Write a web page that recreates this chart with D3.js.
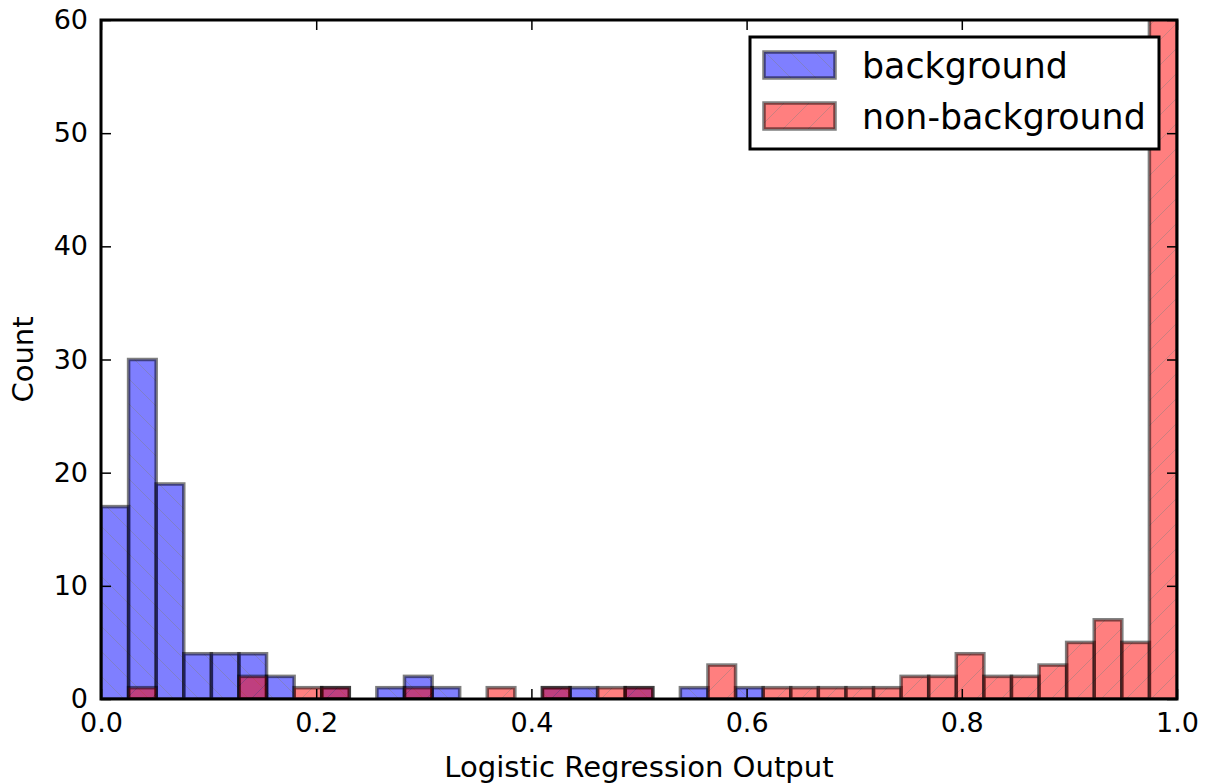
<!DOCTYPE html>
<html>
<head>
<meta charset="utf-8">
<script src="https://cdn.jsdelivr.net/npm/d3@7"></script>
<style>
  html, body { margin: 0; padding: 0; background: #fff; }
  svg { display: block; font-family: "DejaVu Sans", sans-serif; }
</style>
</head>
<body>
<svg id="chart" width="1209" height="784"></svg>
<script>
// Histogram of classifier output: 39 equal-width bins over [0, 1]
const binCount = 39;
const seriesNames = ["background", "non-background"];
const backgroundCounts = [
  17, 30, 19, 4, 4, 4, 2, 0, 1, 0,
  1, 2, 1, 0, 0, 0, 1, 1, 0, 1,
  0, 1, 0, 1, 0, 0, 0, 0, 0, 0,
  0, 0, 0, 0, 0, 0, 0, 0, 0
];
const nonBackgroundCounts = [
  0, 1, 0, 0, 0, 2, 0, 1, 1, 0,
  0, 1, 0, 0, 1, 0, 1, 0, 1, 1,
  0, 0, 3, 0, 1, 1, 1, 1, 1, 2,
  2, 4, 2, 2, 3, 5, 7, 5, 68
];
const xTicks = [0.0, 0.2, 0.4, 0.6, 0.8, 1.0];
const yTicks = [0, 10, 20, 30, 40, 50, 60];
const xLabel = "Logistic Regression Output";
const yLabel = "Count";

const svg = d3.select("#chart");
const margin = { left: 101, right: 32, top: 20, bottom: 85 };
const W = 1209, H = 784;
const x = d3.scaleLinear().domain([0, 1]).range([margin.left, W - margin.right]);
const y = d3.scaleLinear().domain([0, 60]).range([H - margin.bottom, margin.top]);

const defs = svg.append("defs");
defs.append("clipPath").attr("id", "plotClip")
  .append("rect")
  .attr("x", x(0)).attr("y", y(60))
  .attr("width", x(1) - x(0)).attr("height", y(0) - y(60));

// Hatched fills: "\" for background, "/" for non-background
function hatch(id, color, forward) {
  const s = 25;
  const p = defs.append("pattern").attr("id", id)
    .attr("patternUnits", "userSpaceOnUse")
    .attr("width", s).attr("height", s);
  p.append("rect").attr("width", s).attr("height", s).attr("fill", color);
  const lines = forward
    ? [[0, s, s, 0], [-s, s, 0, 0], [s, s, 2 * s, 0]]
    : [[0, 0, s, s], [-s, 0, 0, s], [s, 0, 2 * s, s]];
  lines.forEach(([x1, y1, x2, y2]) => {
    p.append("line").attr("x1", x1).attr("y1", y1).attr("x2", x2).attr("y2", y2)
      .attr("stroke", "rgba(0,0,0,0.45)").attr("stroke-width", 0.9);
  });
}
hatch("hatchBlue", "#0000ff", false);
hatch("hatchRed", "#ff0000", true);

const edges = d3.range(binCount + 1).map(i => i / binCount);
const series = [
  { name: seriesNames[0], counts: backgroundCounts, fill: "url(#hatchBlue)" },
  { name: seriesNames[1], counts: nonBackgroundCounts, fill: "url(#hatchRed)" }
];

const plot = svg.append("g").attr("clip-path", "url(#plotClip)");
series.forEach(s => {
  plot.append("g").selectAll("rect")
    .data(s.counts.map((c, i) => ({ c, x0: edges[i], x1: edges[i + 1] })).filter(d => d.c > 0))
    .join("rect")
    .attr("x", d => x(d.x0))
    .attr("y", d => y(d.c))
    .attr("width", d => x(d.x1) - x(d.x0))
    .attr("height", d => y(0) - y(d.c))
    .attr("fill", s.fill)
    .attr("fill-opacity", 0.5)
    .attr("stroke", "#000")
    .attr("stroke-opacity", 0.5)
    .attr("stroke-width", 3.5);
});

// Axes with inward ticks on all four sides
const fmt = d3.format(".1f");
const tickLen = 10;
const axisG = svg.append("g");
axisG.append("g").attr("transform", `translate(0,${y(0)})`)
  .call(d3.axisBottom(x).tickValues(xTicks).tickFormat(fmt).tickSize(-tickLen).tickPadding(14))
  .call(g => g.select(".domain").remove());
axisG.append("g").attr("transform", `translate(0,${y(60)})`)
  .call(d3.axisTop(x).tickValues(xTicks).tickFormat("").tickSize(-tickLen))
  .call(g => g.select(".domain").remove());
axisG.append("g").attr("transform", `translate(${x(0)},0)`)
  .call(d3.axisLeft(y).tickValues(yTicks).tickFormat(d3.format("d")).tickSize(-tickLen).tickPadding(13))
  .call(g => g.select(".domain").remove());
axisG.append("g").attr("transform", `translate(${x(1)},0)`)
  .call(d3.axisRight(y).tickValues(yTicks).tickFormat("").tickSize(-tickLen))
  .call(g => g.select(".domain").remove());
axisG.selectAll(".tick line").attr("stroke", "#000").attr("stroke-width", 1.5);
axisG.selectAll(".tick text")
  .attr("font-family", "DejaVu Sans, sans-serif")
  .attr("font-size", 27).attr("fill", "#000");

svg.append("rect")
  .attr("x", x(0)).attr("y", y(60))
  .attr("width", x(1) - x(0)).attr("height", y(0) - y(60))
  .attr("fill", "none").attr("stroke", "#000").attr("stroke-width", 3);

svg.append("text")
  .attr("x", (x(0) + x(1)) / 2).attr("y", 777)
  .attr("text-anchor", "middle").attr("font-size", 29.1)
  .text(xLabel);
svg.append("text")
  .attr("transform", `translate(33,${(y(0) + y(60)) / 2}) rotate(-90)`)
  .attr("text-anchor", "middle").attr("font-size", 29)
  .text(yLabel);

// Legend
const lg = svg.append("g").attr("transform", "translate(750,37)");
lg.append("rect").attr("width", 409).attr("height", 112)
  .attr("fill", "#fff").attr("stroke", "#000").attr("stroke-width", 3);
series.forEach((s, i) => {
  const gy = 15 + i * 51;
  lg.append("rect").attr("x", 14).attr("y", gy).attr("width", 71).attr("height", 26)
    .attr("fill", s.fill).attr("fill-opacity", 0.5)
    .attr("stroke", "#000").attr("stroke-opacity", 0.5).attr("stroke-width", 3.5);
  lg.append("text").attr("x", 112).attr("y", gy + 25.5)
    .attr("font-size", 34.8).text(s.name);
});
</script>
</body>
</html>
